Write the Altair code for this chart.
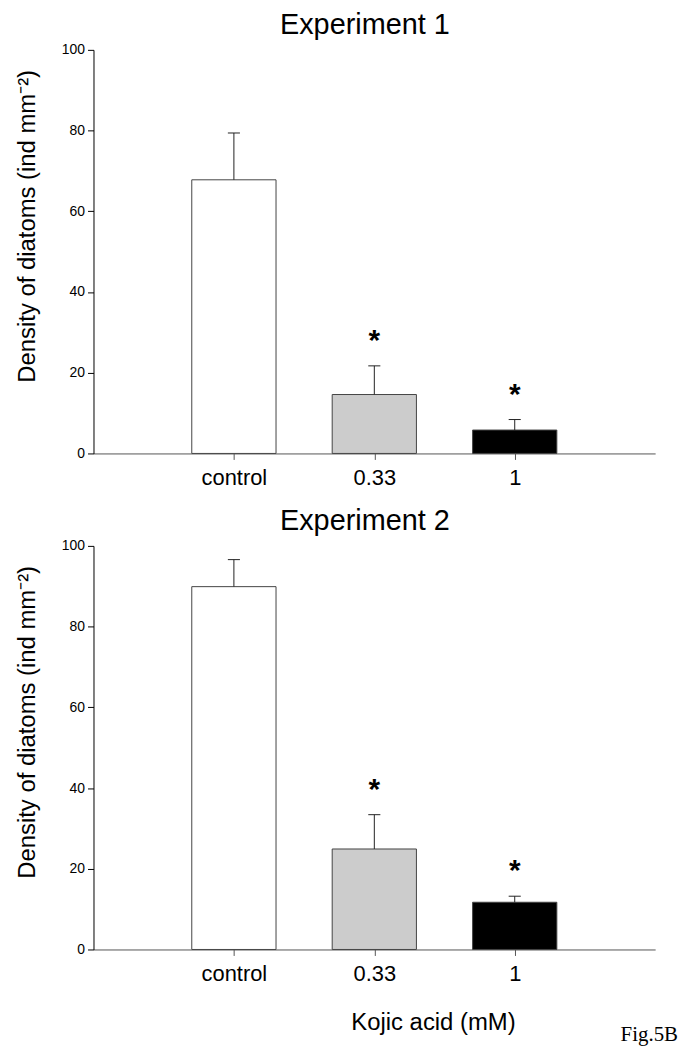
import altair as alt
import pandas as pd

categories = ["control", "0.33", "1"]
exp1_mean = [67.8, 14.6, 5.8]
exp1_se = [11.6, 7.1, 2.6]
exp2_mean = [89.9, 24.9, 11.7]
exp2_se = [6.7, 8.5, 1.5]
signif = ["", "*", "*"]
fills = ["#ffffff", "#cccccc", "#000000"]
y_ticks = [0, 20, 40, 60, 80, 100]
panel_titles = ["Experiment 1", "Experiment 2"]
x_title = "Kojic acid (mM)"
fig_label = "Fig.5B"

FONT = "Liberation Sans"
YTITLE = "Density of diatoms (ind mm\u207b\u00b2)"
W, H = 565, 406

label_expr = " : ".join(
    f"datum.value == {i + 1} ? '{c}'" for i, c in enumerate(categories)
) + " : ''"


def make_df(means, ses):
    return pd.DataFrame({
        "category": categories,
        "pos": [i + 1 for i in range(len(categories))],
        "mean": means,
        "top": [m + s for m, s in zip(means, ses)],
        "sig": signif,
    })


def label_layer(text, x, y, size, font=FONT, align="center"):
    return alt.Chart(pd.DataFrame({"t": [text]})).mark_text(
        font=font, fontSize=size, align=align, baseline="alphabetic", color="black"
    ).encode(x=alt.value(x), y=alt.value(y), text="t:N")


def panel(title, means, ses, bottom=False):
    df = make_df(means, ses)
    base = alt.Chart(df)
    x_axis = alt.Axis(
        values=[1, 2, 3], labelExpr=label_expr, grid=False, title=None,
        domainColor="#555555", tickColor="#555555", tickSize=6,
        labelFont=FONT, labelFontSize=22, labelColor="black", labelPadding=8,
    )
    xscale = alt.Scale(domain=[0, 4], nice=False, zero=False)
    y_axis = alt.Axis(
        values=y_ticks, grid=False, domainColor="black", tickColor="black",
        tickSize=6, labelFont=FONT, labelFontSize=14, labelColor="black",
        labelPadding=3, title=YTITLE, titleFont=FONT, titleFontSize=24,
        titleFontWeight="normal", titleColor="black",
        titleX=-66, titleY=177, titleBaseline="middle", titleAngle=270,
    )
    yscale = alt.Scale(domain=[0, 100], nice=False)

    bars = base.transform_calculate(
        x0="datum.pos - 0.3", x1="datum.pos + 0.3"
    ).mark_bar(stroke="#444444", strokeWidth=1).encode(
        x=alt.X("x0:Q", scale=xscale, axis=x_axis),
        x2="x1:Q",
        y=alt.Y("mean:Q", scale=yscale, axis=y_axis),
        y2=alt.datum(0),
        color=alt.Color("category:N", scale=alt.Scale(domain=categories, range=fills), legend=None),
    )
    err = base.mark_rule(color="#222222", strokeWidth=1).encode(
        x="pos:Q", y="mean:Q", y2="top:Q"
    )
    caps = base.transform_calculate(
        c0="datum.pos - 0.043", c1="datum.pos + 0.043"
    ).mark_rule(color="#222222", strokeWidth=1).encode(
        x="c0:Q", x2="c1:Q", y="top:Q"
    )
    stars = base.mark_text(
        font=FONT, fontSize=30, fontWeight="bold", dy=-16, baseline="alphabetic", color="black"
    ).encode(x="pos:Q", y="top:Q", text="sig:N")
    layers = [bars, err, caps, stars, label_layer(title, 273, -16, 29)]
    if bottom:
        layers.append(label_layer(x_title, 342, H + 81, 24))
        layers.append(label_layer(fig_label, 588, H + 92, 21, font="Liberation Serif", align="right"))
    return alt.layer(*layers).properties(width=W, height=H)


chart = alt.vconcat(
    panel(panel_titles[0], exp1_mean, exp1_se),
    panel(panel_titles[1], exp2_mean, exp2_se, bottom=True),
    spacing=93,
    bounds="flush",
).properties(
    padding={"left": 7, "top": 0, "right": 0, "bottom": 0}
).configure_view(stroke=None)

chart.save("out.html", embed_options={"renderer": "svg", "actions": False})
